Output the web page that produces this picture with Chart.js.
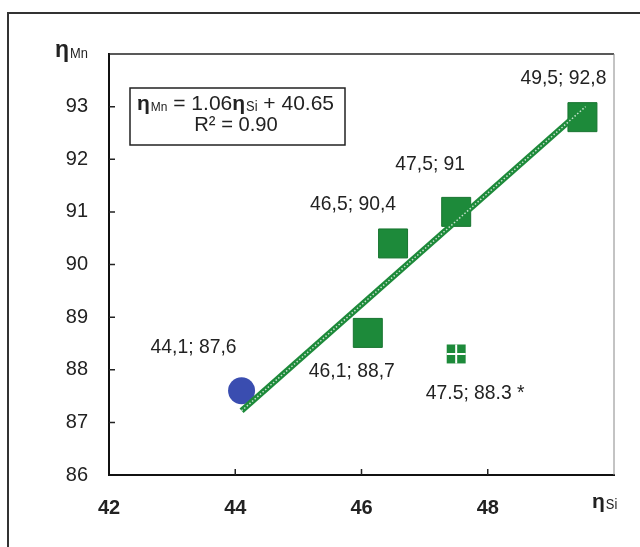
<!DOCTYPE html>
<html>
<head>
<meta charset="utf-8">
<script src="https://cdn.jsdelivr.net/npm/chart.js@4.4.1/dist/chart.umd.min.js"></script>
<style>
  html, body { margin: 0; padding: 0; background: #fff; }
  #wrap { width: 640px; height: 547px; position: relative; }
</style>
</head>
<body>
<div id="wrap"><canvas id="chart" width="640" height="547"></canvas></div>
<script>
// data
const xTicks = [42, 44, 46, 48];
const yTicks = [86, 87, 88, 89, 90, 91, 92, 93];
const circleX = [44.1];
const circleY = [87.6];
const squareX = [46.1, 46.5, 47.5, 49.5];
const squareY = [88.7, 90.4, 91, 92.8];
const smallX = [47.5];
const smallY = [88.3];
const trendX = [44.1, 49.55];
const trendY = [87.22, 93.0];
const pointLabels = ["44,1; 87,6", "46,1; 88,7", "46,5; 90,4", "47,5; 91", "49,5; 92,8", "47.5; 88.3 *"];
const labelX = [44.1, 46.1, 46.5, 47.5, 49.5, 47.5];
const labelY = [87.6, 88.7, 90.4, 91, 92.8, 88.3];

// label offsets in px from the point (style only)
const labelOffsets = [[-48, -44], [-16, 38], [-40, -39], [-26, -48], [-19, -39], [19, 39]];

const green = "#1d8a3a";
const blue = "#3a4db0";
const textColor = "#222";
const fontFam = "'Liberation Sans', Arial, sans-serif";

function pts(xs, ys) {
    return xs.map((x, i) => ({ x: x, y: ys[i] }));
}

// draws text a bit condensed, like the narrow face in the original
function narrowText(c, t, x, y, align, sx) {
    sx = sx || 0.92;
    const w = c.measureText(t).width * sx;
    let left = x;
    if (align === "center") left = x - w / 2;
    c.save();
    c.textAlign = "left";
    c.translate(left, y);
    c.scale(sx, 1);
    c.fillText(t, 0, 0);
    c.restore();
    return left + w;
}

const decorPlugin = {
    id: "decor",
    beforeDraw(chart) {
        const c = chart.ctx;
        c.save();
        c.fillStyle = "#fff";
        c.fillRect(0, 0, chart.width, chart.height);
        // outer frame
        c.strokeStyle = "#333";
        c.lineWidth = 2;
        c.beginPath();
        c.moveTo(8, chart.height + 2);
        c.lineTo(8, 13);
        c.lineTo(chart.width + 2, 13);
        c.stroke();
        c.restore();
    },
    afterDraw(chart) {
        const c = chart.ctx;
        const a = chart.chartArea;
        const xs = chart.scales.x, ys = chart.scales.y;
        c.save();
        // top and right of plot box
        c.strokeStyle = "#222";
        c.lineWidth = 1.5;
        c.beginPath();
        c.moveTo(a.left, a.top);
        c.lineTo(a.right, a.top);
        c.stroke();
        c.strokeStyle = "#888";
        c.lineWidth = 1;
        c.beginPath();
        c.moveTo(a.right, a.top);
        c.lineTo(a.right, a.bottom);
        c.stroke();

        // inward tick marks
        c.strokeStyle = "#222";
        c.lineWidth = 1.5;
        c.beginPath();
        xTicks.forEach(v => {
            if (v === xs.min) return;
            const px = xs.getPixelForValue(v);
            c.moveTo(px, a.bottom);
            c.lineTo(px, a.bottom - 6);
        });
        yTicks.forEach(v => {
            if (v === ys.min) return;
            const py = ys.getPixelForValue(v);
            c.moveTo(a.left, py);
            c.lineTo(a.left + 6, py);
        });
        c.stroke();

        // point labels
        c.fillStyle = textColor;
        c.font = "21px " + fontFam;
        c.textBaseline = "middle";
        pointLabels.forEach((t, i) => {
            const px = xs.getPixelForValue(labelX[i]) + labelOffsets[i][0];
            const py = ys.getPixelForValue(labelY[i]) + labelOffsets[i][1];
            narrowText(c, t, px, py, "center");
        });

        // axis titles
        c.textAlign = "left";
        c.textBaseline = "alphabetic";
        drawEta(c, "Mn", 55, 57, 23, 14);
        drawEta(c, "Si", 592, 508, 21, 14);

        // equation box
        c.fillStyle = "#fff";
        c.fillRect(130, 88, 215, 57);
        c.strokeStyle = "#222";
        c.lineWidth = 1.5;
        c.strokeRect(130, 88, 215, 57);
        c.fillStyle = textColor;
        let x = 137;
        x = drawEta(c, "Mn", x, 110, 21, 13);
        c.font = "21px " + fontFam;
        x = narrowText(c, " = 1.06", x, 110, "left", 1);
        x = drawEta(c, "Si", x, 110, 21, 14);
        c.font = "21px " + fontFam;
        narrowText(c, " + 40.65", x, 110, "left", 1);
        narrowText(c, "R\u00B2 = 0.90", 236, 131, "center", 0.96);
        c.restore();
    }
};

function drawEta(c, sub, x, y, size, subSize) {
    c.fillStyle = textColor;
    c.font = "bold " + size + "px " + fontFam;
    c.fillText("\u03B7", x, y);
    x += c.measureText("\u03B7").width + 1;
    c.font = subSize + "px " + fontFam;
    return narrowText(c, sub, x, y + 1, "left");
}

const ctx = document.getElementById("chart").getContext("2d");

const chart = new Chart(ctx, {
    type: "scatter",
    plugins: [decorPlugin],
    data: {
        datasets: [
            {
                data: pts(trendX, trendY),
                showLine: true,
                borderColor: "rgba(255,255,255,0.75)",
                borderWidth: 1.5,
                borderDash: [1.5, 2],
                pointRadius: 0
            },
            {
                data: pts(trendX, trendY),
                showLine: true,
                borderColor: green,
                borderWidth: 6,
                pointRadius: 0
            },
            {
                data: pts(smallX, smallY),
                pointStyle: "cross",
                pointRadius: 9.5,
                borderColor: "#fff",
                borderWidth: 2
            },
            {
                data: pts(smallX, smallY),
                pointStyle: "rect",
                pointRadius: 13.4,
                backgroundColor: green,
                borderColor: green,
                borderWidth: 0
            },
            {
                data: pts(squareX, squareY),
                pointStyle: "rect",
                pointRadius: 20.5,
                backgroundColor: green,
                borderColor: "#187530",
                borderWidth: 1
            },
            {
                data: pts(circleX, circleY),
                pointStyle: "circle",
                pointRadius: 13.5,
                backgroundColor: blue,
                borderColor: blue,
                borderWidth: 0
            }
        ]
    },
    options: {
        responsive: false,
        animation: false,
        layout: { padding: { top: 54, right: 26, left: 0, bottom: 0 } },
        plugins: {
            legend: { display: false },
            tooltip: { enabled: false }
        },
        scales: {
            x: {
                type: "linear",
                min: 42,
                max: 50,
                afterFit: s => { s.height = 72; },
                afterBuildTicks: s => { s.ticks = xTicks.map(v => ({ value: v })); },
                grid: { display: true, drawOnChartArea: false, drawTicks: false },
                border: { display: true, color: "#111", width: 2 },
                ticks: {
                    padding: 21,
                    color: textColor,
                    font: { family: fontFam, size: 20, weight: "bold" }
                }
            },
            y: {
                type: "linear",
                min: 86,
                max: 94,
                afterFit: s => { s.width = 109; },
                afterBuildTicks: s => { s.ticks = yTicks.map(v => ({ value: v })); },
                grid: { display: true, drawOnChartArea: false, drawTicks: false },
                border: { display: true, color: "#111", width: 2 },
                ticks: {
                    padding: 21,
                    color: textColor,
                    font: { family: fontFam, size: 20 }
                }
            }
        }
    }
});
</script>
</body>
</html>
